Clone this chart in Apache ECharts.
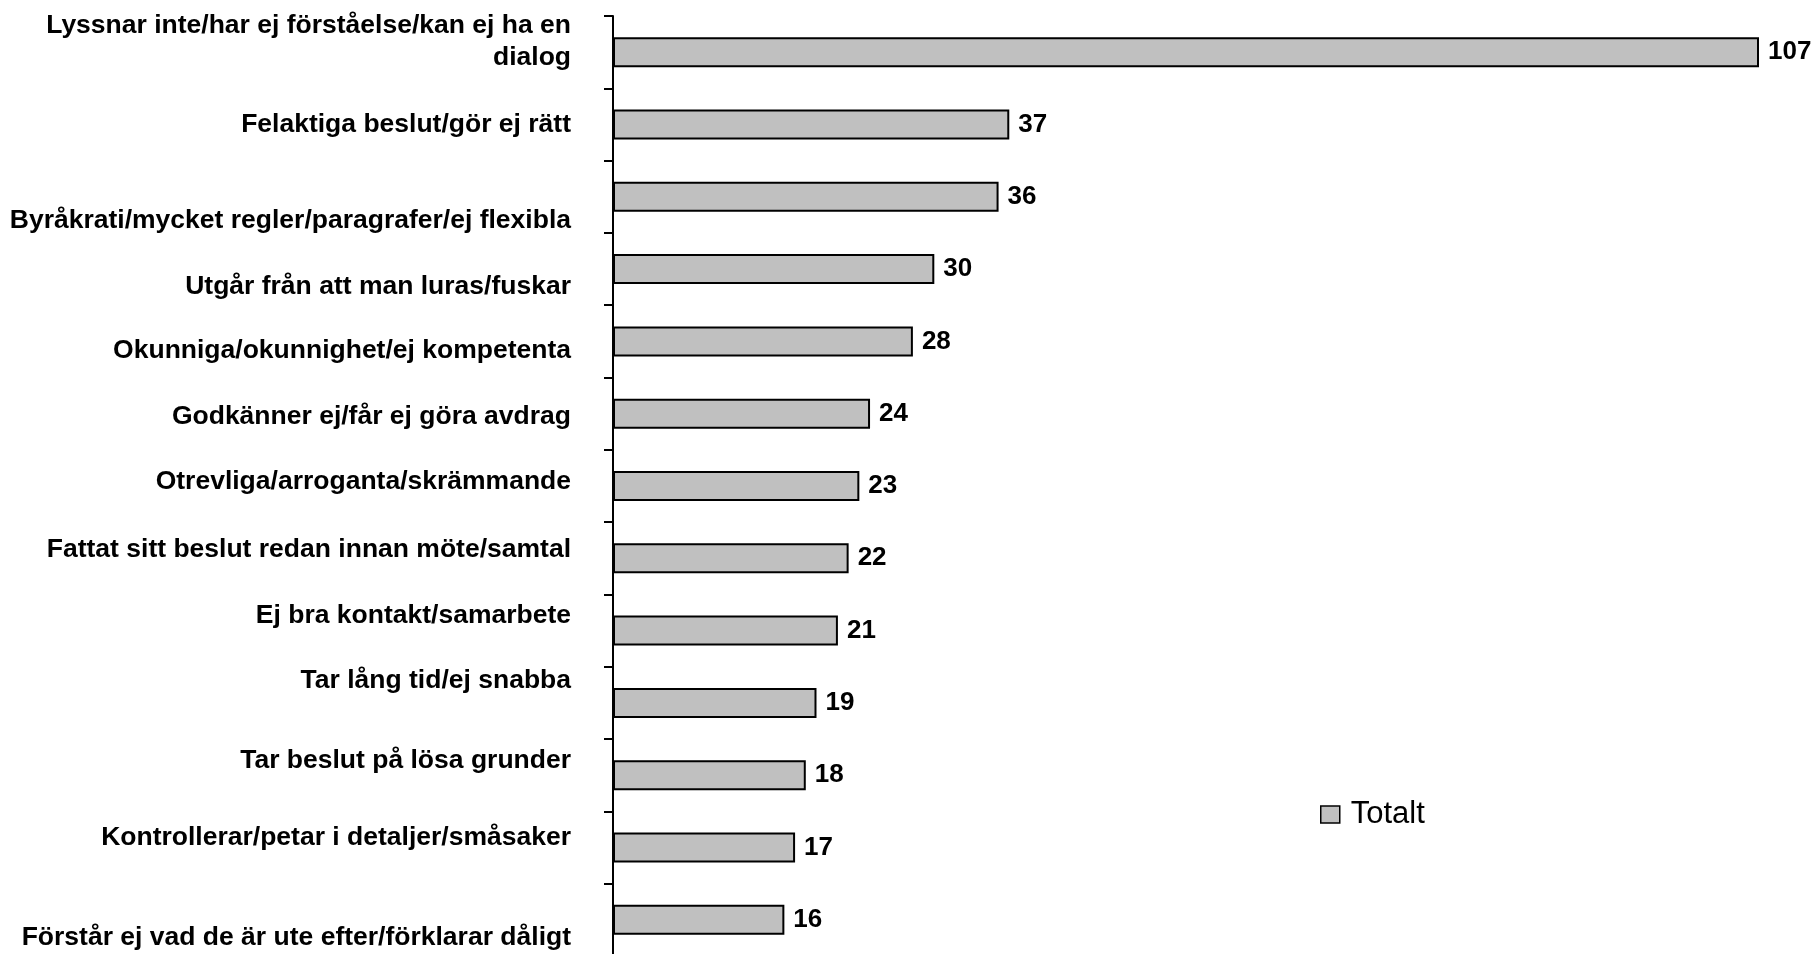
<!DOCTYPE html>
<html>
<head>
<meta charset="utf-8">
<title>Totalt</title>
<script src="https://cdn.jsdelivr.net/npm/echarts@6/dist/echarts.min.js"></script>
<style>
	html,body{margin:0;padding:0;background:#fff;}
	#chart{width:1817px;height:954px;}
</style>
</head>
<body>
<div id="chart"></div>
<script>
var seriesName='Totalt';
var categories=[
	'Lyssnar inte/har ej förståelse/kan ej ha en\ndialog',
	'Felaktiga beslut/gör ej rätt',
	'Byråkrati/mycket regler/paragrafer/ej flexibla',
	'Utgår från att man luras/fuskar',
	'Okunniga/okunnighet/ej kompetenta',
	'Godkänner ej/får ej göra avdrag',
	'Otrevliga/arroganta/skrämmande',
	'Fattat sitt beslut redan innan möte/samtal',
	'Ej bra kontakt/samarbete',
	'Tar lång tid/ej snabba',
	'Tar beslut på lösa grunder',
	'Kontrollerar/petar i detaljer/småsaker',
	'Förstår ej vad de är ute efter/förklarar dåligt'
];
var values=[107,37,36,30,28,24,23,22,21,19,18,17,16];

//etiketterna sitter lite snett i originalet, flytt i px (+ = nedåt)
var labelShift=[-10,0,24,18,9,3,-4,-9,-15,-22,-15,-10,18];

var font='"Liberation Sans", Arial, sans-serif';

//en rich-stil per etikett, padding flyttar texten upp/ner
var rich={};
labelShift.forEach(function(d,i){
	rich['s'+i]={
		fontFamily:font,
		fontWeight:'bold',
		fontSize:26.5,
		lineHeight:32,
		color:'#000',
		padding:d<0?[0,0,-2*d,0]:[2*d,0,0,0]
	};
});

var myChart=echarts.init(document.getElementById('chart'));
var option={
	animation:false,
	grid:{
		left:613,
		top:16,
		width:1146,
		height:940,
		outerBoundsMode:'none'
	},
	legend:{
		data:[seriesName],
		left:1315,
		top:794,
		icon:'rect',
		itemWidth:19,
		itemHeight:17,
		itemStyle:{borderColor:'#000',borderWidth:1.5},
		textStyle:{fontFamily:font,fontSize:31,color:'#000',padding:[0,0,0,6]}
	},
	xAxis:{
		type:'value',
		min:0,
		max:107,
		show:false
	},
	yAxis:{
		type:'category',
		inverse:true,
		data:categories,
		axisLine:{show:true,lineStyle:{color:'#000',width:2}},
		axisTick:{show:true,length:9,lineStyle:{color:'#000',width:2}},
		axisLabel:{
			margin:42,
			fontFamily:font,
			fontWeight:'bold',
			fontSize:26.5,
			lineHeight:32,
			color:'#000',
			formatter:function(value,index){
				return value.split('\n').map(function(line){
					return '{s'+index+'|'+line+'}';
				}).join('\n');
			},
			rich:rich
		}
	},
	series:[{
		name:seriesName,
		type:'bar',
		data:values,
		barWidth:30,
		itemStyle:{color:'#c0c0c0',borderColor:'#000',borderWidth:2},
		label:{
			show:true,
			position:'right',
			distance:9,
			fontFamily:font,
			fontWeight:'bold',
			fontSize:26,
			color:'#000'
		}
	}]
};
myChart.setOption(option);
</script>
</body>
</html>
